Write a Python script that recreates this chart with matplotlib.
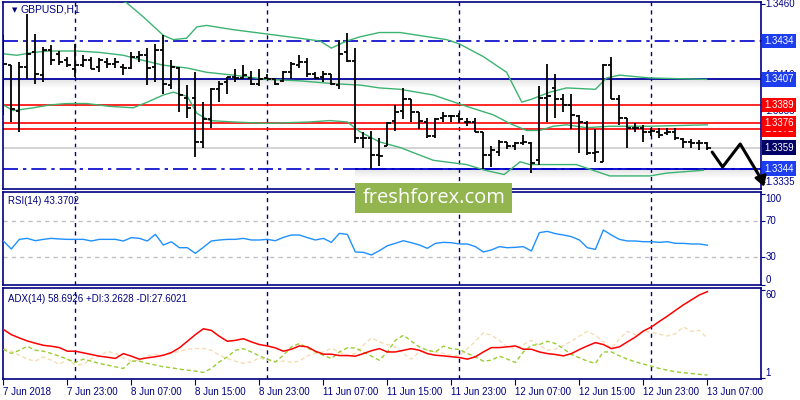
import numpy as np
import pandas as pd
import matplotlib
matplotlib.use('Agg')
import matplotlib.pyplot as plt
from matplotlib.collections import LineCollection
from matplotlib.patches import Rectangle

# ---- data (GBPUSD H1, 7 Jun 15:00 .. 13 Jun 07:00) ----
opens = [1.3428, 1.3417, 1.3385, 1.3416, 1.3426, 1.3410, 1.3428, 1.3425, 1.3421, 1.3414,
         1.3417, 1.3421, 1.3416, 1.3419, 1.3418, 1.3416, 1.3415, 1.3423, 1.3424, 1.3416,
         1.3428, 1.3403, 1.3415, 1.3394, 1.3394, 1.3363, 1.3379, 1.3400, 1.3405, 1.3409,
         1.3408, 1.3408, 1.3404, 1.3408, 1.3407, 1.3406, 1.3412, 1.3417, 1.3419, 1.3411,
         1.3409, 1.3411, 1.3403, 1.3426, 1.3420, 1.3366, 1.3366, 1.3354, 1.3360, 1.3378,
         1.3385, 1.3393, 1.3384, 1.3377, 1.3367, 1.3380, 1.3381, 1.3381, 1.3377, 1.3377,
         1.3370, 1.3354, 1.3356, 1.3363, 1.3360, 1.3362, 1.3362, 1.3350, 1.3394, 1.3401,
         1.3393, 1.3389, 1.3381, 1.3376, 1.3355, 1.3349, 1.3417, 1.3393, 1.3380, 1.3373,
         1.3373, 1.3370, 1.3370, 1.3369, 1.3370, 1.3365, 1.3363, 1.3362, 1.3362]
highs = [1.3438, 1.3417, 1.3419, 1.3453, 1.3439, 1.3430, 1.3431, 1.3427, 1.3423, 1.3432,
         1.3424, 1.3423, 1.3422, 1.3422, 1.3422, 1.3418, 1.3426, 1.3427, 1.3429, 1.3432,
         1.3438, 1.3421, 1.3416, 1.3403, 1.3412, 1.3391, 1.3401, 1.3406, 1.3409, 1.3414,
         1.3417, 1.3413, 1.3414, 1.3411, 1.3407, 1.3413, 1.3419, 1.3424, 1.3422, 1.3412,
         1.3413, 1.3411, 1.3435, 1.3440, 1.3429, 1.3370, 1.3371, 1.3366, 1.3377, 1.3389,
         1.3401, 1.3393, 1.3384, 1.3380, 1.3380, 1.3384, 1.3382, 1.3383, 1.3380, 1.3380,
         1.3370, 1.3360, 1.3364, 1.3363, 1.3363, 1.3368, 1.3363, 1.3402, 1.3418, 1.3411,
         1.3397, 1.3397, 1.3382, 1.3378, 1.3372, 1.3418, 1.3423, 1.3396, 1.3380, 1.3376,
         1.3375, 1.3373, 1.3373, 1.3373, 1.3373, 1.3366, 1.3365, 1.3364, 1.3363]
lows = [1.3382, 1.3377, 1.3370, 1.3407, 1.3404, 1.3405, 1.3417, 1.3417, 1.3416, 1.3409,
        1.3416, 1.3414, 1.3412, 1.3415, 1.3415, 1.3410, 1.3414, 1.3419, 1.3403, 1.3405,
        1.3397, 1.3400, 1.3384, 1.3380, 1.3352, 1.3359, 1.3373, 1.3391, 1.3397, 1.3405,
        1.3407, 1.3403, 1.3402, 1.3407, 1.3403, 1.3405, 1.3407, 1.3415, 1.3409, 1.3407,
        1.3405, 1.3403, 1.3400, 1.3419, 1.3362, 1.3359, 1.3344, 1.3346, 1.3360, 1.3371,
        1.3379, 1.3377, 1.3372, 1.3366, 1.3366, 1.3377, 1.3377, 1.3376, 1.3374, 1.3370,
        1.3344, 1.3345, 1.3353, 1.3358, 1.3357, 1.3361, 1.3341, 1.3347, 1.3377, 1.3380,
        1.3384, 1.3372, 1.3355, 1.3354, 1.3349, 1.3349, 1.3393, 1.3375, 1.3359, 1.3370,
        1.3363, 1.3367, 1.3366, 1.3368, 1.3364, 1.3359, 1.3359, 1.3357, 1.3357]
closes = [1.3418, 1.3386, 1.3416, 1.3425, 1.3411, 1.3428, 1.3421, 1.3419, 1.3417, 1.3417,
          1.3421, 1.3414, 1.3421, 1.3418, 1.3419, 1.3415, 1.3423, 1.3424, 1.3415, 1.3428,
          1.3404, 1.3416, 1.3396, 1.3387, 1.3363, 1.3379, 1.3400, 1.3404, 1.3409, 1.3408,
          1.3410, 1.3404, 1.3407, 1.3407, 1.3404, 1.3412, 1.3418, 1.3419, 1.3411, 1.3408,
          1.3411, 1.3404, 1.3425, 1.3420, 1.3366, 1.3366, 1.3354, 1.3353, 1.3376, 1.3384,
          1.3393, 1.3384, 1.3378, 1.3367, 1.3379, 1.3381, 1.3381, 1.3379, 1.3377, 1.3370,
          1.3354, 1.3357, 1.3363, 1.3360, 1.3362, 1.3363, 1.3348, 1.3394, 1.3395, 1.3393,
          1.3389, 1.3382, 1.3377, 1.3355, 1.3356, 1.3417, 1.3393, 1.3380, 1.3373, 1.3373,
          1.3370, 1.3371, 1.3368, 1.3370, 1.3366, 1.3363, 1.3362, 1.3362, 1.3359]

# Bollinger band vertices (bar position, price)
bb_up_x = [0, 8, 12, 15.4, 17.5, 20, 21.25, 22.9, 24.2, 25.4, 28.75, 32.9, 37, 39.6, 41, 42.9,
           44.6, 47, 49.6, 55.4, 57, 60, 62.9, 64.8, 66, 68.3, 70.4, 74, 75.4, 77, 80.8, 87.9]
bb_up = [1.3472, 1.3475, 1.3468, 1.3461, 1.3451, 1.3438, 1.3435, 1.3436, 1.3444, 1.3445, 1.3442,
         1.3439, 1.3436, 1.3434, 1.3429, 1.3434, 1.3437, 1.3440, 1.3440, 1.3435, 1.3432, 1.3423,
         1.3412, 1.3391, 1.3393, 1.3398, 1.3401, 1.3400, 1.3408, 1.3410, 1.3408, 1.3407]
bb_mid_x = [0, 1.7, 3.75, 5.8, 9.2, 12, 15, 17, 20, 23, 25.4, 28.75, 32.9, 37, 41.25, 44.6, 47,
            49.6, 53.75, 57.9, 61.25, 63.3, 65.4, 67, 68.75, 70.4, 72.9, 75.8, 80.8, 88]
bb_mid = [1.3425, 1.3424, 1.3426, 1.3427, 1.3427, 1.3426, 1.3424, 1.3421, 1.3417, 1.3415, 1.3412,
          1.3410, 1.3407, 1.3406, 1.3404, 1.3403, 1.3401, 1.3400, 1.3396, 1.3388, 1.3382, 1.3376,
          1.3371, 1.3371, 1.3374, 1.3375, 1.3373, 1.3374, 1.3374, 1.3375]
bb_low_x = [0, 1.25, 3.75, 5.8, 7.9, 10.4, 13.3, 16.25, 18, 20, 21.25, 23, 24.2, 25.8, 28.75,
            32.9, 38.3, 40.8, 43, 44.6, 47, 49.6, 53.75, 57.9, 60.2, 62.6, 64.6, 65.8, 71.6,
            75.8, 80.8, 82.9, 87.5]
bb_low = [1.3389, 1.3385, 1.3387, 1.3389, 1.3390, 1.3390, 1.3388, 1.3387, 1.3391, 1.3396, 1.3398,
          1.3395, 1.3383, 1.3378, 1.3377, 1.3376, 1.3377, 1.3378, 1.3377, 1.3370, 1.3363, 1.3359,
          1.3350, 1.3347, 1.3343, 1.3340, 1.3349, 1.3347, 1.3347, 1.3339, 1.3339, 1.3341, 1.3343]

rsi = [48.0, 39.2, 49.8, 50.9, 48.3, 49.8, 50.9, 50.2, 49.8, 49.8, 49.8, 48.0, 49.8, 49.8, 49.8,
       48.0, 51.7, 50.9, 48.0, 55.3, 43.6, 47.2, 40.6, 40.6, 34.4, 41.0, 48.0, 49.1, 49.8, 49.8,
       50.9, 49.1, 49.1, 49.8, 48.3, 52.0, 54.6, 54.6, 51.7, 49.1, 50.9, 46.5, 56.4, 55.3, 35.9,
       35.5, 32.6, 37.3, 42.8, 45.4, 48.3, 46.1, 43.6, 39.9, 45.4, 46.5, 46.1, 44.7, 44.7, 41.8,
       35.9, 38.1, 41.8, 40.6, 41.0, 41.8, 37.0, 57.2, 58.6, 56.1, 54.6, 52.8, 49.1, 40.6, 38.8,
       60.1, 54.6, 49.8, 48.0, 48.0, 47.2, 47.2, 46.5, 47.2, 45.4, 45.4, 44.7, 44.7, 43.3702]

adx = [33.6, 30.1, 27.9, 25.9, 24.4, 23.0, 22.4, 21.5, 19.1, 19.1, 18.0, 16.9, 15.8, 15.1, 14.3,
       17.5, 15.8, 13.8, 14.7, 15.4, 16.4, 18.2, 21.3, 25.7, 30.1, 34.0, 32.9, 29.0, 25.7, 26.3,
       27.4, 25.3, 23.5, 22.6, 21.3, 19.1, 20.4, 22.6, 22.0, 19.1, 17.1, 17.1, 16.2, 16.2, 15.8,
       17.5, 19.4, 20.8, 18.6, 18.6, 19.7, 20.8, 19.7, 17.5, 16.4, 16.0, 15.4, 14.9, 13.8, 15.4,
       18.6, 21.5, 21.5, 22.0, 22.6, 20.4, 20.4, 18.6, 17.5, 16.9, 16.0, 17.5, 20.2, 22.6, 24.8,
       23.5, 20.8, 22.0, 25.3, 28.5, 32.5, 35.2, 38.9, 42.4, 46.2, 49.9, 53.2, 56.5, 58.6926]
plus_di = [20.4, 17.6, 19.7, 22.4, 19.7, 19.1, 17.6, 15.8, 13.8, 11.6, 13.8, 12.5, 11.0, 9.9, 8.7,
           7.6, 12.5, 12.5, 11.0, 9.9, 8.7, 8.1, 7.2, 6.5, 5.9, 5.0, 7.6, 12.0, 15.3, 19.7,
           20.8, 18.6, 16.0, 13.8, 12.0, 16.4, 21.9, 24.2, 21.3, 18.6, 16.4, 14.2, 18.6, 21.3, 21.3,
           18.6, 15.8, 13.1, 18.6, 26.3, 29.7, 25.7, 21.9, 19.7, 18.6, 22.4, 20.8, 20.2, 17.6, 15.3,
           12.5, 13.1, 15.8, 13.8, 11.6, 18.6, 23.0, 23.5, 25.7, 24.2, 20.8, 16.9, 14.7, 12.5, 11.0,
           18.6, 18.6, 16.0, 13.8, 12.0, 10.5, 9.2, 7.6, 6.5, 5.4, 4.8, 4.3, 3.7, 3.2628]
minus_di = [20.9, 19.1, 16.4, 13.8, 12.5, 15.3, 13.1, 10.3, 13.8, 9.9, 10.3, 14.2, 15.8, 19.1, 17.6,
            14.7, 12.5, 13.1, 16.0, 16.9, 16.4, 17.6, 19.1, 20.4, 20.9, 20.9, 19.7, 16.4, 14.2, 12.5,
            11.0, 12.0, 14.7, 13.1, 12.0, 12.5, 11.6, 12.5, 16.0, 17.6, 18.6, 20.9, 18.6, 16.0, 17.6,
            23.0, 27.9, 25.3, 23.5, 21.9, 17.6, 13.8, 18.6, 19.7, 18.6, 17.6, 16.4, 16.0, 20.9, 25.7,
            31.4, 29.7, 26.3, 21.9, 20.9, 23.5, 26.3, 23.0, 19.7, 20.4, 23.0, 25.7, 29.2, 32.3, 29.7,
            25.3, 20.9, 27.4, 32.3, 30.1, 32.3, 31.9, 30.3, 29.2, 30.7, 35.2, 32.3, 32.9, 27.6021]

# bar times: Friday session then Monday onwards
times = list(pd.date_range('2018-06-07 15:00', '2018-06-08 23:00', freq='h')) + \
        list(pd.date_range('2018-06-11 00:00', '2018-06-13 07:00', freq='h'))

levels_red = [1.3389, 1.3376, 1.3372]
level_top = 1.3434
level_res = 1.3407
level_sup = 1.3344
bid = 1.3359

NAVY = '#00007f'
FONT = 'Liberation Sans'

n = len(closes)
idx = np.arange(n)
day_starts = [i for i in range(n) if times[i].hour == 0]

fig = plt.figure(figsize=(8, 4), dpi=100)
fig.patch.set_facecolor('white')
W, H = 800.0, 400.0
left, width = 3 / W, 758 / W
ax = fig.add_axes([left, 1 - 189 / H, width, 187 / H])
ax_rsi = fig.add_axes([left, 1 - 285 / H, width, 93 / H])
ax_adx = fig.add_axes([left, 1 - 379 / H, width, 91 / H])

for a in (ax, ax_rsi, ax_adx):
    a.set_xlim(-0.04, 94.7)
    for s in a.spines.values():
        s.set_color(NAVY)
        s.set_linewidth(1.2)
    for d in day_starts:
        a.axvline(d, color=NAVY, lw=1, ls=(0, (3, 3)), zorder=1)
    a.yaxis.tick_right()
    a.tick_params(axis='y', length=3, color=NAVY, labelright=False, direction='out')

# ---- main price panel ----
ax.set_ylim(1.33298, 1.34615)
ax.set_xticks([])
ax.set_yticks([1.3335, 1.3360, 1.3385, 1.3410, 1.3435, 1.3460])

ax.axhline(level_top, color='#0000cc', lw=1.2, ls=(0, (9, 3, 2, 3)), zorder=2)
ax.axhline(level_sup, color='#0000cc', lw=1.2, ls=(0, (9, 3, 2, 3)), zorder=2)
ax.axhline(bid, color='#cccccc', lw=1.2, zorder=2)
for lv in levels_red:
    ax.axhline(lv, color='#ff0000', lw=1.2, zorder=2)

# support / resistance lines with a soft shadow
step = (1.34615 - 1.33298) / 187
for k in range(1, 9):
    al = 0.10 * (1 - k / 9)
    ax.axhline(level_res - k * step, color='#555555', lw=1.2, alpha=al, zorder=2)
    ax.hlines(level_sup - k * step, 44, 94.7, color='#555555', lw=1.2, alpha=al, zorder=2)
ax.axhline(level_res, color='#0000a0', lw=1.3, zorder=3)
ax.hlines(level_sup, 44, 94.7, color='#0000cc', lw=1.3, zorder=3)

bb_col = '#3cb371'
ax.plot(bb_up_x, bb_up, color=bb_col, lw=1, zorder=3)
ax.plot(bb_mid_x, bb_mid, color=bb_col, lw=1, zorder=3)
ax.plot(bb_low_x, bb_low, color=bb_col, lw=1, zorder=3)

segs = []
for i in range(n):
    segs.append([(i, lows[i]), (i, highs[i])])
    segs.append([(i - 0.4, opens[i]), (i, opens[i])])
    segs.append([(i, closes[i]), (i + 0.4, closes[i])])
ax.add_collection(LineCollection(segs, colors='black', linewidths=1.3, zorder=4))

# right axis price labels
yt = ax.get_yaxis_transform()
for v in [1.3460, 1.3435, 1.3410, 1.3385, 1.3360, 1.3335]:
    ax.text(1.006, v, f'{v:.4f}', transform=yt, fontsize=7, family=FONT,
            color=NAVY, va='center', ha='left', clip_on=False)
boxes = [(level_top, '#1c3df0'), (level_res, '#1c3df0'), (levels_red[0], '#ff0000'),
         (levels_red[2], '#ff0000'), (levels_red[1], '#ff0000'), (bid, '#000066'),
         (level_sup, '#1c3df0')]
for v, c in boxes:
    ax.text(1.004, v, f'{v:.4f}', transform=yt, fontsize=7, family=FONT, color='white',
            va='center', ha='left', clip_on=False, zorder=10,
            bbox=dict(boxstyle='square,pad=0.25', fc=c, ec='none'))

ax.text(0.0115, 0.958, '\u25bc', transform=ax.transAxes, fontsize=5, color=NAVY,
        va='center', ha='left', family='DejaVu Sans')
ax.text(0.023, 0.958, 'GBPUSD,H1', transform=ax.transAxes, fontsize=7.5, color=NAVY,
        va='center', ha='left', family=FONT)

# hand drawn forecast arrow
arr_x = [88.6, 89.9, 92.1, 94.8]
arr_y = [1.33558, 1.33453, 1.33615, 1.33361]
ax.plot(arr_x, arr_y, color='black', lw=2.2, clip_on=False, zorder=12, solid_capstyle='round')
ax.annotate('', xy=(95.2, 1.33295), xytext=(94.8, 1.33361),
            arrowprops=dict(arrowstyle='-|>,head_length=0.6,head_width=0.35', color='black', lw=2),
            annotation_clip=False, zorder=12)

# ---- RSI panel ----
ax_rsi.set_ylim(-0.5, 102)
ax_rsi.set_xticks([])
ax_rsi.set_yticks([0, 30, 70, 100])
ax_rsi.axhline(70, color='#c0c0c0', lw=1, ls=(0, (3, 3)))
ax_rsi.axhline(30, color='#c0c0c0', lw=1, ls=(0, (3, 3)))
ax_rsi.plot(idx, rsi, color='#1e90ff', lw=1, zorder=3)
yr = ax_rsi.get_yaxis_transform()
for v, va in [(100, 'top'), (70, 'center'), (30, 'center'), (0, 'bottom')]:
    ax_rsi.text(1.006, v, str(v), transform=yr, fontsize=7, family=FONT, color=NAVY,
                va=va, ha='left', clip_on=False)
ax_rsi.text(0.007, 0.9, f'RSI(14) {rsi[-1]:.4f}', transform=ax_rsi.transAxes, fontsize=7,
            family=FONT, color=NAVY, va='center')

# ---- ADX panel ----
ax_adx.set_ylim(0.62, 61.1)
ax_adx.set_yticks([1, 60])
ax_adx.plot(idx, minus_di, color='#f5deb3', lw=1, ls=(0, (3, 2)), zorder=2)
ax_adx.plot(idx, plus_di, color='#9acd32', lw=1, ls=(0, (3, 2)), zorder=3)
ax_adx.plot(idx, adx, color='#ff0000', lw=1.1, zorder=4)
ya = ax_adx.get_yaxis_transform()
for v, va in [(60, 'top'), (1, 'bottom')]:
    ax_adx.text(1.006, v, str(v), transform=ya, fontsize=7, family=FONT, color=NAVY,
                va=va, ha='left', clip_on=False)
ax_adx.text(0.007, 0.88, f'ADX(14) {adx[-1]:.4f} +DI:{plus_di[-1]:.4f} -DI:{minus_di[-1]:.4f}',
            transform=ax_adx.transAxes, fontsize=7, family=FONT, color=NAVY, va='center')

tick_pos = list(range(0, n, 8))
tick_lab = []
for i in tick_pos:
    t = times[i]
    tick_lab.append(t.strftime('%-d %b %Y') if i == 0 else t.strftime('%-d %b %H:%M'))
ax_adx.set_xticks(tick_pos)
ax_adx.set_xticklabels(tick_lab, fontsize=7, family=FONT, color=NAVY, ha='left')
ax_adx.tick_params(axis='x', length=4, color=NAVY, direction='out', pad=2)

# watermark
fig.add_artist(Rectangle((355 / W, 1 - 213 / H), 157 / W, 30 / H, transform=fig.transFigure,
                         fc='#92b550', ec='none', zorder=20))
fig.text(434 / W, 1 - 198 / H, 'freshforex.com', fontsize=14.5, family='Open Sans',
         color='white', ha='center', va='center', zorder=21)

fig.savefig('out.png', dpi=100, facecolor='white')
